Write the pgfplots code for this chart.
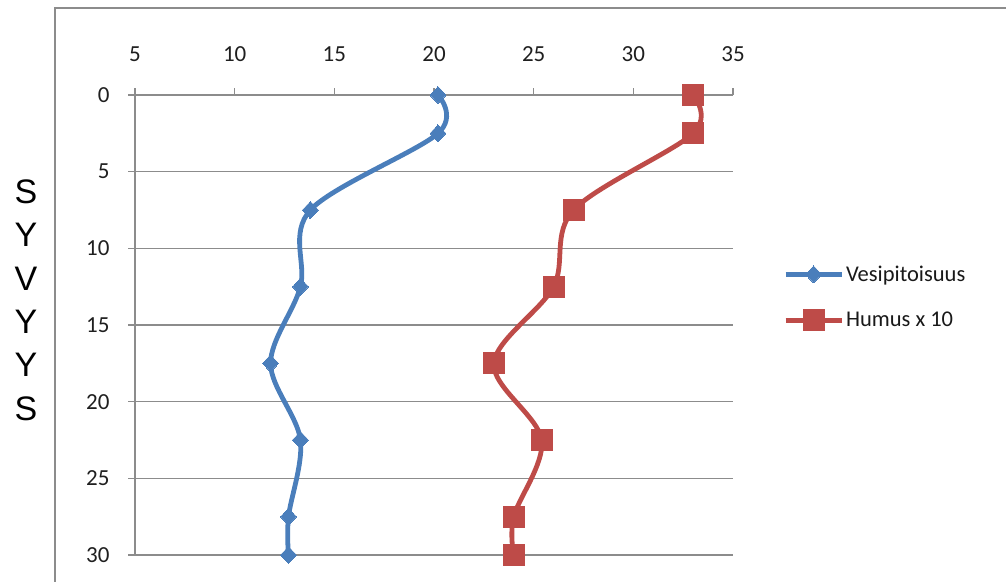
\documentclass[border=0pt]{standalone}
\usepackage{pgfplots}
\pgfplotsset{compat=1.18}
\usepackage{fontspec}
\setmainfont{Carlito}
\newfontfamily\arialfont{Liberation Sans}
\definecolor{blueS}{HTML}{4A7EBB}
\definecolor{redS}{HTML}{BE4B48}
\definecolor{gridG}{HTML}{8C8C8C}
\begin{document}
\begin{tikzpicture}[x=1pt,y=1pt]
\useasboundingbox (0,0) rectangle (1006,-581);
\draw[gridG, line width=1.5pt] (55,-600) -- (55,-8) -- (1020,-8);
\node[font=\arialfont\fontsize{34}{43.4}\selectfont, align=center, inner sep=0pt] at (26,-300) {S\\Y\\V\\Y\\Y\\S};
\begin{axis}[
  at={(135pt,-555pt)}, anchor=south west,
  scale only axis, width=598pt, height=460pt,
  xmin=5, xmax=35, ymin=0, ymax=30,
  y dir=reverse,
  axis x line*=top, axis y line*=left,
  xtick={5,10,...,35}, ytick={0,5,...,30},
  ymajorgrids, grid style={gridG, line width=1.3pt},
  axis line style={gridG, line width=1.3pt},
  tick style={gridG, line width=1.3pt},
  tick align=outside, major tick length=7pt,
  ticklabel style={font=\fontsize{23}{26}\selectfont, text=black!88},
  xticklabel style={yshift=23pt},
  yticklabel style={xshift=-15pt},
  /pgf/number format/assume math mode=true,
  clip=false,
  legend style={at={(1.0836,0.56)}, anchor=west, draw=none, fill=none,
    font=\fontsize{22.5}{26}\selectfont, row sep=25pt, inner sep=0pt,
    nodes={inner sep=2pt, text=black!90}},
  legend cell align=left,
  legend image code/.code={\draw[mark repeat=2,mark phase=2,#1] plot coordinates {(0pt,0pt) (28pt,0pt) (56pt,0pt)};},
]
\addplot[blueS, line width=4.8pt, smooth, tension=0.55, mark=diamond*, mark size=8.5pt, mark options={solid, line width=0pt, xscale=1.25}]
  coordinates {(20.2,0) (20.2,2.5) (13.8,7.5) (13.3,12.5) (11.8,17.5) (13.3,22.5) (12.7,27.5) (12.7,30)};
\addlegendentry{Vesipitoisuus}
\addplot[redS, line width=4.8pt, smooth, tension=0.55, mark=square*, mark size=10.5pt, mark options={solid, line width=0pt}]
  coordinates {(33.0,0) (33.0,2.5) (27.0,7.5) (26.0,12.5) (23.0,17.5) (25.4,22.5) (24.0,27.5) (24.0,30)};
\addlegendentry{Humus x 10}
\end{axis}
\end{tikzpicture}
\end{document}
